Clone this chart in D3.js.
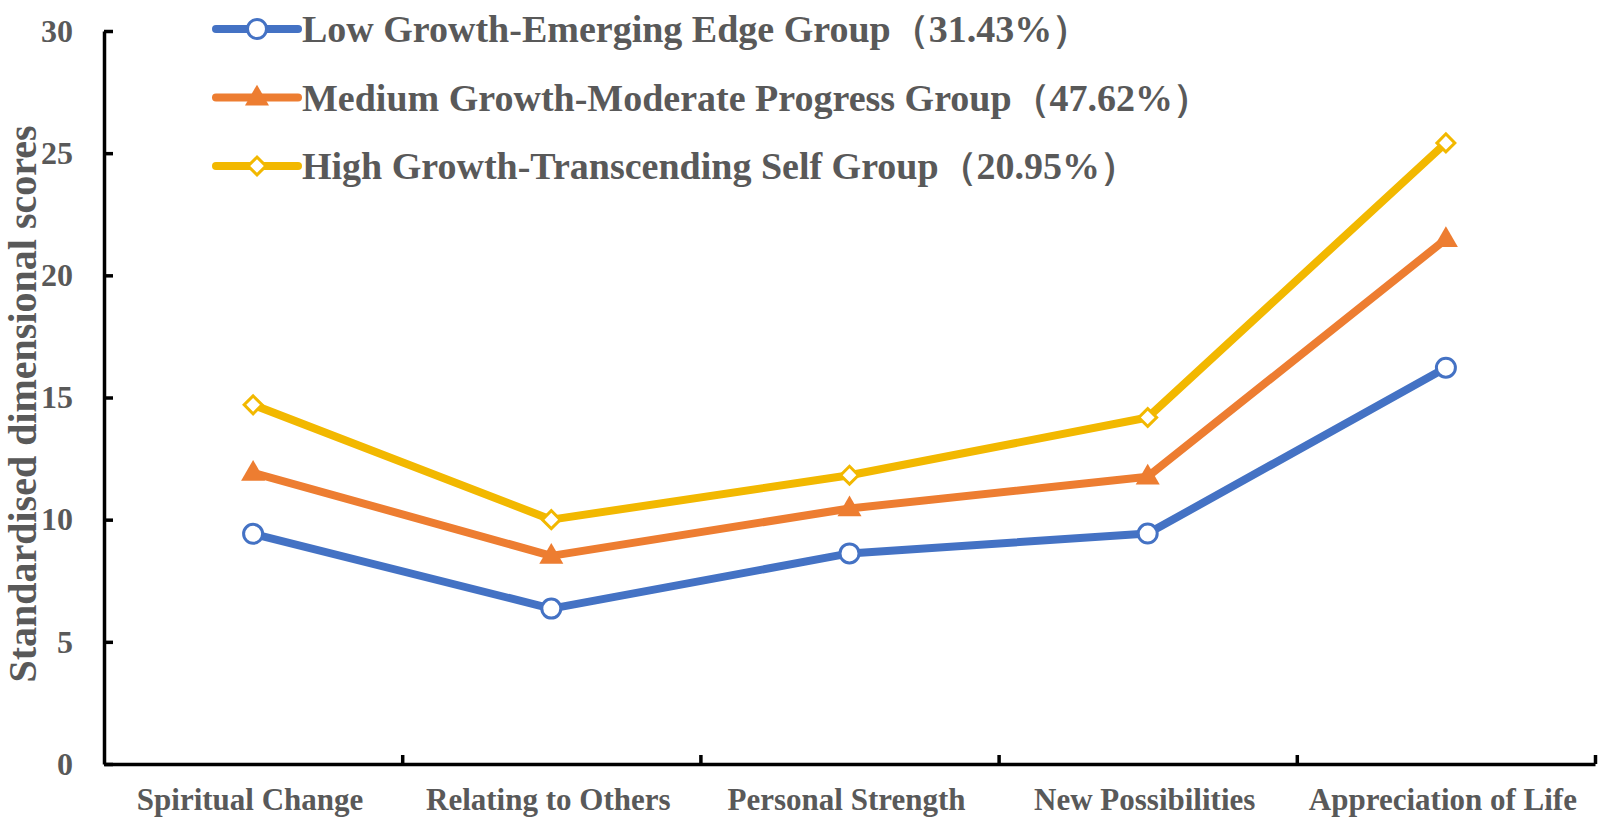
<!DOCTYPE html>
<html>
<head>
<meta charset="utf-8">
<script src="https://cdn.jsdelivr.net/npm/d3@7"></script>
<style>
  body { margin: 0; background: #fff; }
  text { font-family: "Liberation Serif", "Times New Roman", serif; font-weight: bold; fill: #595959; }
</style>
</head>
<body>
<div id="graph"></div>
<script>
// chart values
var categories = ["Spiritual Change", "Relating to Others", "Personal Strength", "New Possibilities", "Appreciation of Life"];
var seriesNames = ["Low Growth-Emerging Edge Group（31.43%）",
                   "Medium Growth-Moderate Progress Group（47.62%）",
                   "High Growth-Transcending Self Group（20.95%）"];
var lowValues = [9.42, 6.36, 8.62, 9.43, 16.22];
var mediumValues = [11.92, 8.52, 10.46, 11.76, 21.48];
var highValues = [14.70, 10.00, 11.82, 14.18, 25.42];
var yTicks = [0, 5, 10, 15, 20, 25, 30];
var yTitle = "Standardised dimensional scores";

var width = 1600, height = 821;
var margin = {top: 31, right: 5, bottom: 57, left: 104};

var svg = d3.select('#graph')
			.append('svg')
			.attr("width", width)
			.attr("height", height);

var x = d3.scaleBand().domain(categories).range([margin.left, width - margin.right]).padding(0);
var xEdges = d3.scaleLinear().domain([0, categories.length]).range([margin.left, width - margin.right]);
var y = d3.scaleLinear().domain([0, 30]).range([height - margin.bottom, margin.top]);

var series = [
	{name: seriesNames[0], values: lowValues, color: "#4472C4", shape: "circle"},
	{name: seriesNames[1], values: mediumValues, color: "#ED7D31", shape: "triangle"},
	{name: seriesNames[2], values: highValues, color: "#F2B800", shape: "diamond"}
];

// axes
var yAxis = d3.axisLeft(y).tickValues(yTicks).tickSizeInner(-9).tickSizeOuter(0).tickPadding(31);
var yAxisG = svg.append("g")
				.attr("transform", `translate(${margin.left},0)`)
				.call(yAxis);
yAxisG.select(".domain").attr("stroke", "#000").attr("stroke-width", 3.5);
yAxisG.selectAll(".tick line").attr("stroke", "#000").attr("stroke-width", 3.5);
yAxisG.selectAll(".tick text")
	  .style("font-family", '"Liberation Serif", serif')
	  .style("font-weight", "bold")
	  .style("font-size", "32px")
	  .attr("fill", "#595959");

var xAxis = d3.axisBottom(xEdges).tickValues(d3.range(1, categories.length + 1))
			  .tickFormat("").tickSizeInner(-9).tickSizeOuter(0);
var xAxisG = svg.append("g")
				.attr("transform", `translate(0,${height - margin.bottom})`)
				.call(xAxis);
xAxisG.select(".domain").attr("stroke", "#000").attr("stroke-width", 3.5);
xAxisG.selectAll(".tick line").attr("stroke", "#000").attr("stroke-width", 3.5);

svg.append("g").selectAll("text")
	.data(categories)
	.enter().append("text")
	.attr("x", d => x(d) + x.bandwidth() / 2 - 3)
	.attr("y", height - margin.bottom + 46)
	.attr("text-anchor", "middle")
	.style("font-size", "31px")
	.text(d => d);

// y title
svg.append("text")
	.attr("transform", `translate(36,${404}) rotate(-90)`)
	.attr("text-anchor", "middle")
	.style("font-size", "40px")
	.text(yTitle);

// markers
function drawMarker(g, shape, color, cx, cy) {
	if (shape === "circle") {
		g.append("circle").attr("cx", cx).attr("cy", cy).attr("r", 9.5)
		 .attr("fill", "#fff").attr("stroke", color).attr("stroke-width", 3);
	} else if (shape === "triangle") {
		g.append("path").attr("d", d3.symbol(d3.symbolTriangle, 250)())
		 .attr("transform", `translate(${cx},${cy + 1})`)
		 .attr("fill", color);
	} else {
		g.append("path").attr("d", d3.symbol(d3.symbolSquare, 160)())
		 .attr("transform", `translate(${cx},${cy}) rotate(45)`)
		 .attr("fill", "#fff").attr("stroke", color).attr("stroke-width", 3);
	}
}

var line = d3.line()
			 .x((d, i) => x(categories[i]) + x.bandwidth() / 2)
			 .y(d => y(d));

series.forEach(function(s) {
	var g = svg.append("g");
	g.append("path")
	 .attr("d", line(s.values))
	 .attr("fill", "none")
	 .attr("stroke", s.color)
	 .attr("stroke-width", 8)
	 .attr("stroke-linejoin", "round");
	s.values.forEach(function(v, i) {
		drawMarker(g, s.shape, s.color, x(categories[i]) + x.bandwidth() / 2, y(v));
	});
});

// legend
var legend = svg.append("g").attr("id", "legend");
series.forEach(function(s, i) {
	var ly = 29 + i * 68.5;
	var g = legend.append("g");
	g.append("line").attr("x1", 216).attr("x2", 298).attr("y1", ly).attr("y2", ly)
	 .attr("stroke", s.color).attr("stroke-width", 8).attr("stroke-linecap", "round");
	drawMarker(g, s.shape, s.color, 257, ly);
	g.append("text")
	 .attr("x", 302).attr("y", ly).attr("dy", "0.35em")
	 .style("font-size", "38px")
	 .text(s.name);
});
</script>
</body>
</html>
